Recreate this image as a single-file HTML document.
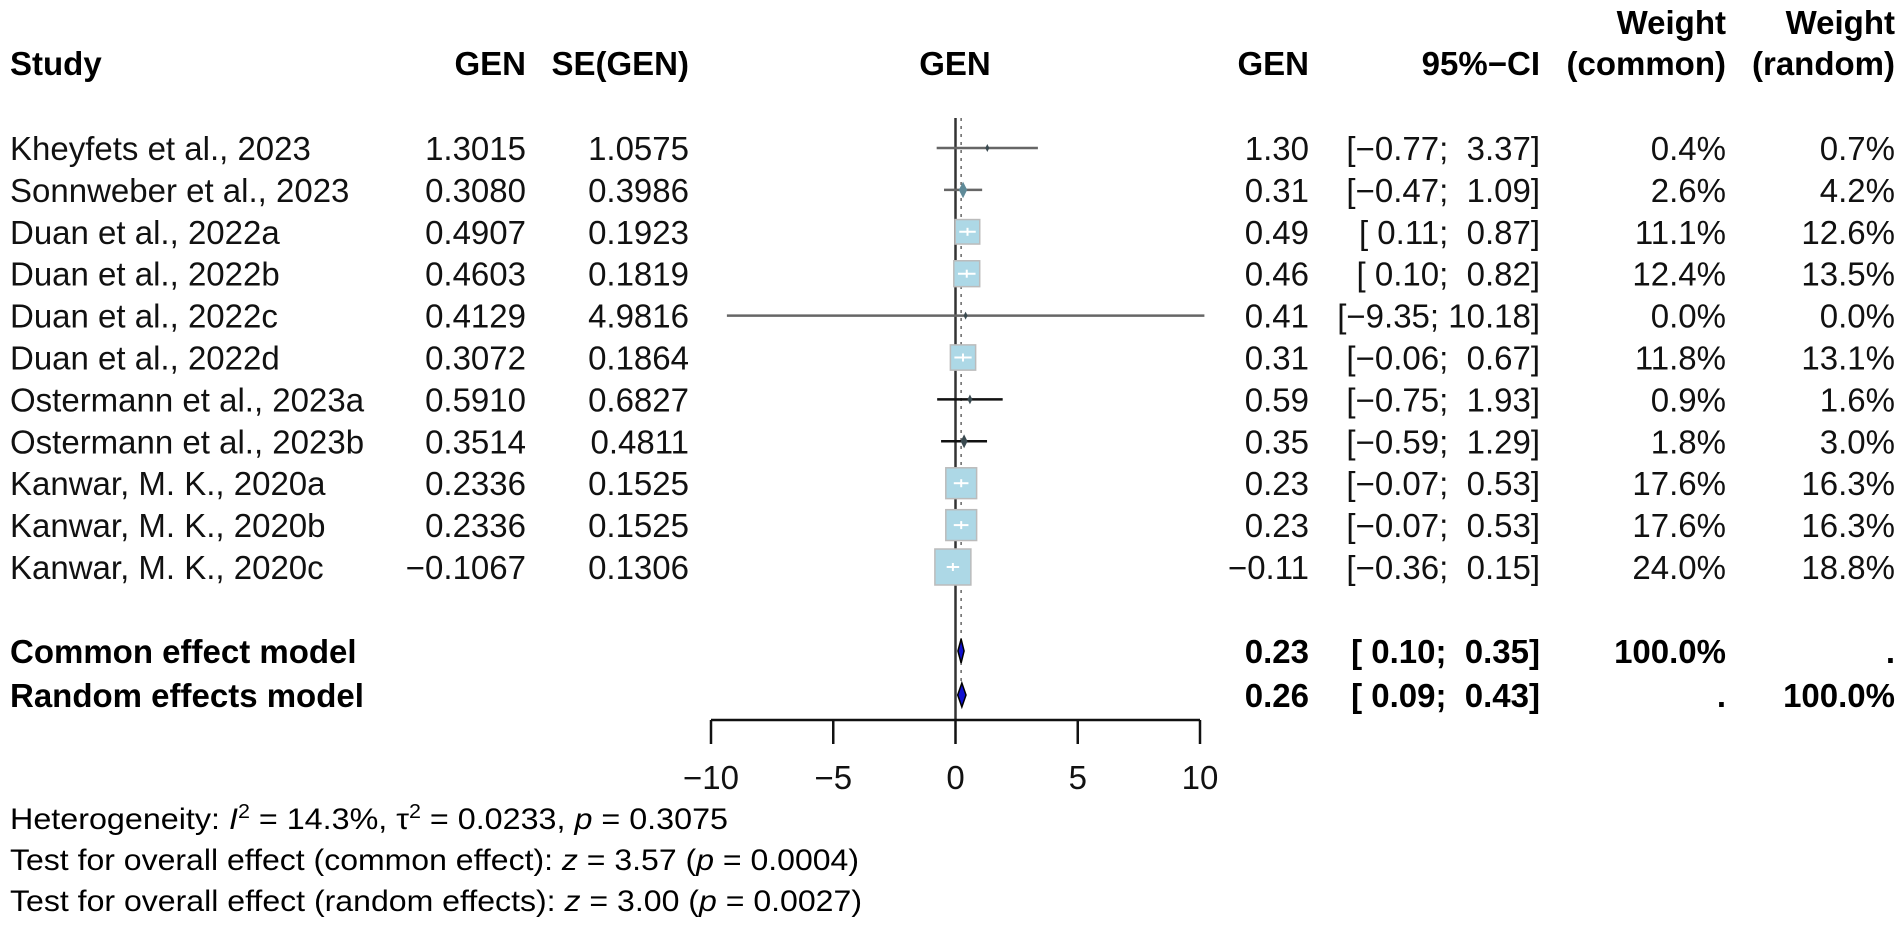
<!DOCTYPE html>
<html><head><meta charset="utf-8"><style>
html,body{margin:0;padding:0;background:#fff;}
svg{display:block;font-family:"Liberation Sans",Arial,sans-serif;}
</style></head><body>
<svg id="plot" width="1902" height="928" viewBox="0 0 1902 928" xmlns="http://www.w3.org/2000/svg">
  <g font-weight="bold" font-size="33" fill="#000">
    <text x="10" y="75">Study</text>
    <text x="526" y="75" text-anchor="end">GEN</text>
    <text x="689" y="75" text-anchor="end">SE(GEN)</text>
    <text x="955" y="75" text-anchor="middle">GEN</text>
    <text x="1309" y="75" text-anchor="end">GEN</text>
    <text x="1540" y="75" text-anchor="end">95%−CI</text>
    <text x="1726" y="34" text-anchor="end">Weight</text>
    <text x="1726" y="75" text-anchor="end">(common)</text>
    <text x="1895" y="34" text-anchor="end">Weight</text>
    <text x="1895" y="75" text-anchor="end">(random)</text>
  </g>
  <g id="rows" font-size="33"></g>
  <g id="marks"></g>
  <g id="axis"></g>
  <g font-size="30" fill="#000">
    <text x="10" y="829" textLength="718" lengthAdjust="spacingAndGlyphs">Heterogeneity: <tspan font-style="italic">I</tspan><tspan dy="-11" font-size="20">2</tspan><tspan dy="11"> = 14.3%, τ</tspan><tspan dy="-11" font-size="20">2</tspan><tspan dy="11"> = 0.0233, </tspan><tspan font-style="italic">p</tspan> = 0.3075</text>
    <text x="10" y="870" textLength="849" lengthAdjust="spacingAndGlyphs">Test for overall effect (common effect): <tspan font-style="italic">z</tspan> = 3.57 (<tspan font-style="italic">p</tspan> = 0.0004)</text>
    <text x="10" y="911" textLength="852" lengthAdjust="spacingAndGlyphs">Test for overall effect (random effects): <tspan font-style="italic">z</tspan> = 3.00 (<tspan font-style="italic">p</tspan> = 0.0027)</text>
  </g>
</svg>
<script>
const studies = ["Kheyfets et al., 2023","Sonnweber et al., 2023","Duan et al., 2022a","Duan et al., 2022b","Duan et al., 2022c","Duan et al., 2022d","Ostermann et al., 2023a","Ostermann et al., 2023b","Kanwar, M. K., 2020a","Kanwar, M. K., 2020b","Kanwar, M. K., 2020c"];
const genValues = [1.3015,0.3080,0.4907,0.4603,0.4129,0.3072,0.5910,0.3514,0.2336,0.2336,-0.1067];
const seValues = [1.0575,0.3986,0.1923,0.1819,4.9816,0.1864,0.6827,0.4811,0.1525,0.1525,0.1306];
const ciLower = [-0.77,-0.47,0.11,0.10,-9.35,-0.06,-0.75,-0.59,-0.07,-0.07,-0.36];
const ciUpper = [3.37,1.09,0.87,0.82,10.18,0.67,1.93,1.29,0.53,0.53,0.15];
const weightCommon = [0.4,2.6,11.1,12.4,0.0,11.8,0.9,1.8,17.6,17.6,24.0];
const weightRandom = [0.7,4.2,12.6,13.5,0.0,13.1,1.6,3.0,16.3,16.3,18.8];
const commonEst = [0.23,0.10,0.35];
const randomEst = [0.26,0.09,0.43];
const xTicks = [-10,-5,0,5,10];
const xMin = -10, xMax = 10;

const NS = "http://www.w3.org/2000/svg";
const X0 = 711, X1 = 1200;
function xs(v){ return X0 + (v - xMin) / (xMax - xMin) * (X1 - X0); }
function ys(i){ return 148 + i * 41.9; }
function mk(tag, attrs, parent){ const e = document.createElementNS(NS, tag); for (const k in attrs) e.setAttribute(k, attrs[k]); parent.appendChild(e); return e; }
function fmt(v,d){ const s = Math.abs(v).toFixed(d); return (v < 0 ? "−" : "") + s; }
function ci(l,u){ const f = v => { const s = fmt(v,2); return (v >= 0 && s.length < 5 ? " " : "") + s; }; return "[" + f(l) + "; " + f(u) + "]"; }

const rows = document.getElementById("rows");
const marks = document.getElementById("marks");
const axis = document.getElementById("axis");

const yTop = 118, yBot = 720;
const zl = mk("line", {x1: xs(0), x2: xs(0), y1: yTop, y2: yBot, stroke: "#333", "stroke-width": 2.5}, marks);


const cl = mk("line", {x1: xs(commonEst[0]), x2: xs(commonEst[0]), y1: yTop, y2: yBot - 30, stroke: "#666", "stroke-width": 1.5, "stroke-dasharray": "3,5"}, marks);



studies.forEach((s, i) => {
  const y = ys(i);
  const ty = y + 12;
  const cols = [[10, s, "start"], [526, fmt(genValues[i],4), "end"], [689, seValues[i].toFixed(4), "end"],
    [1309, fmt(genValues[i],2), "end"], [1540, ci(ciLower[i], ciUpper[i]), "end"],
    [1726, weightCommon[i].toFixed(1) + "%", "end"], [1895, weightRandom[i].toFixed(1) + "%", "end"]];
  cols.forEach((c, j) => {
    const t = mk("text", {x: c[0], y: ty, "text-anchor": c[2], fill: "#111"}, rows);
    t.style.whiteSpace = "pre";
    t.textContent = c[1];
    
    
  });
  const side = weightCommon[i] > 0 ? Math.max(5, 36 * Math.sqrt(weightCommon[i] / 24)) : 4;
  const big = side > 15;
  const lineColor = (i === 6 || i === 7) ? "#111" : "#666";
  const cx = xs(genValues[i]);
  const l = mk("line", {x1: xs(ciLower[i]), x2: xs(ciUpper[i]), y1: y, y2: y, stroke: lineColor, "stroke-width": 2.5}, marks);
  
  
  let b;
  if (big) {
    b = mk("rect", {x: cx - side/2, y: y - side/2, width: side, height: side, fill: "#add8e6", stroke: "#bbb", "stroke-width": 1.5}, marks);
  } else {
    const h = Math.max(4, side * 0.7);
    b = mk("polygon", {points: [(cx-h/2)+","+y, cx+","+(y-h), (cx+h/2)+","+y, cx+","+(y+h)].join(" "), fill: i === 1 ? "#5f8a98" : "#3a4a50", stroke: "none"}, marks);
  }
  
  
  if (big) {
    const w = mk("line", {x1: Math.max(xs(ciLower[i]), cx - side/2 + 4), x2: Math.min(xs(ciUpper[i]), cx + side/2 - 4), y1: y, y2: y, stroke: "#fff", "stroke-width": 2}, marks);
    
    
    const v = mk("line", {x1: cx, x2: cx, y1: y - 4, y2: y + 4, stroke: "#fff", "stroke-width": 2}, marks);
    
    
  }
});

const summaries = [["Common effect model", commonEst, "100.0%", ".", 651], ["Random effects model", randomEst, ".", "100.0%", 695]];
summaries.forEach((s, k) => {
  const y = s[4];
  const cols = [[10, s[0], "start"], [1309, s[1][0].toFixed(2), "end"], [1540, ci(s[1][1], s[1][2]), "end"], [1726, s[2], "end"], [1895, s[3], "end"]];
  cols.forEach((c, j) => {
    const t = mk("text", {x: c[0], y: y + 12, "text-anchor": c[2], "font-weight": "bold", fill: "#000"}, rows);
    t.style.whiteSpace = "pre";
    t.textContent = c[1];
    
    
  });
  const d = mk("polygon", {points: [xs(s[1][1]) + "," + y, xs(s[1][0]) + "," + (y - 12), xs(s[1][2]) + "," + y, xs(s[1][0]) + "," + (y + 12)].join(" "), fill: "#1010d0", stroke: "#000", "stroke-width": 1.5}, marks);
  
  
});

const axisY = 720;
const al = mk("line", {x1: xs(xMin), x2: xs(xMax), y1: axisY, y2: axisY, stroke: "#111", "stroke-width": 2.5}, axis);


xTicks.forEach(v => {
  const t = mk("line", {x1: xs(v), x2: xs(v), y1: axisY, y2: axisY + 24, stroke: "#111", "stroke-width": 2.5}, axis);
  
  
  const lb = mk("text", {x: xs(v), y: 789, "text-anchor": "middle", "font-size": 33, fill: "#111"}, axis);
  lb.textContent = v < 0 ? "−" + Math.abs(v) : String(v);
  
  
});
</script>
</body></html>
